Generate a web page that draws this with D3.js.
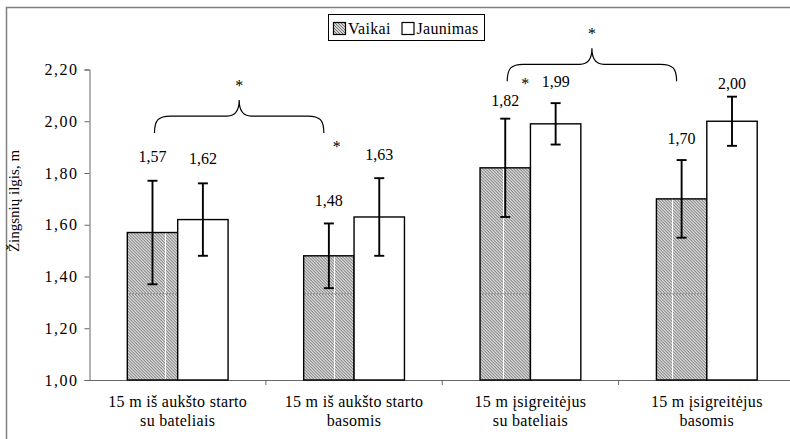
<!DOCTYPE html>
<html>
<head>
<meta charset="utf-8">
<script src="https://cdn.jsdelivr.net/npm/d3@7"></script>
</head>
<body style="margin:0;background:#fff">
<script>

// chart values
var categories = ["c1", "c2", "c3", "c4"];
var catLine1 = ["15 m iš aukšto starto", "15 m iš aukšto starto", "15 m įsigreitėjus", "15 m įsigreitėjus"];
var catLine2 = ["su bateliais", "basomis", "su bateliais", "basomis"];
var series = ["Vaikai", "Jaunimas"];
var vaikai = [1.57, 1.48, 1.82, 1.70];
var jaunimas = [1.62, 1.63, 1.99, 2.00];
var vaikaiSd = [0.20, 0.125, 0.19, 0.15];
var jaunimasSd = [0.14, 0.15, 0.08, 0.095];
var yTicks = [1.0, 1.2, 1.4, 1.6, 1.8, 2.0, 2.2];
// significance braces between Vaikai bars, level in axis units
var braces = [[0, 1, 2.02], [2, 3, 2.22]];
// single stars: category, value
var stars = [[1, 1.91], [2, 2.153]];

var width = 790, height = 439;
var FONT = "'Liberation Serif'";

var svg = d3.select("body").append("svg")
  .attr("width", width)
  .attr("height", height);

var defs = svg.append("defs");

// fine hatch
var hatch = defs.append("pattern")
  .attr("id", "hatch")
  .attr("patternUnits", "userSpaceOnUse")
  .attr("width", 3).attr("height", 3);
hatch.append("rect").attr("width", 3).attr("height", 3).attr("fill", "#fff");
hatch.append("path")
  .attr("d", "M0,0L3,3M-1,2L1,4M2,-1L4,1")
  .attr("stroke", "#6a6a6a").attr("stroke-width", 1.05);

// tile with the seams of the original picture
var tile = defs.append("pattern")
  .attr("id", "hatchTile")
  .attr("patternUnits", "userSpaceOnUse")
  .attr("x", 165).attr("y", 293.3)
  .attr("width", 169).attr("height", 600);
tile.append("rect").attr("width", 169).attr("height", 600).attr("fill", "url(#hatch)");
tile.append("line").attr("x1", 0.5).attr("x2", 0.5).attr("y1", 0).attr("y2", 600)
  .attr("stroke", "#fff").attr("stroke-width", 1);
tile.append("line").attr("x1", 0).attr("x2", 169).attr("y1", 0.5).attr("y2", 0.5)
  .attr("stroke", "#999").attr("stroke-width", 1);

// outer frame
svg.append("rect")
  .attr("x", 6.5).attr("y", 7.5)
  .attr("width", 800).attr("height", 460)
  .attr("fill", "none")
  .attr("stroke", "#808080").attr("stroke-width", 1.5);

var x = d3.scaleBand().domain(categories).range([89.5, 795]);
var xs = d3.scaleBand().domain(series).range([0, x.bandwidth()]).paddingOuter(0.75);
var y = d3.scaleLinear().domain([1, 2.2]).range([380, 69.5]);

function txt(sel, size) {
  return sel.style("font-family", FONT).style("font-size", size + "px").attr("fill", "#000");
}

// y axis
var yAxis = svg.append("g")
  .attr("transform", "translate(89.5,0)")
  .call(d3.axisLeft(y).tickValues(yTicks).tickSize(5).tickPadding(6)
    .tickFormat(function(d) { return d3.format(".2f")(d).replace(".", ","); }));
yAxis.attr("font-family", null).attr("font-size", null);
yAxis.select(".domain").attr("stroke", "#666");
yAxis.selectAll(".tick line").attr("stroke", "#666");
txt(yAxis.selectAll("text"), 16).style("letter-spacing", "1.5px");

// x axis line and boundary ticks
var xAxis = svg.append("g")
  .attr("transform", "translate(0,380)")
  .call(d3.axisBottom(x).tickSize(0).tickFormat(""));
xAxis.select(".domain").attr("stroke", "#666");

svg.selectAll(".bound")
  .data(categories.slice(1))
  .enter().append("line")
  .attr("x1", function(d) { return x(d); })
  .attr("x2", function(d) { return x(d); })
  .attr("y1", 380).attr("y2", 385)
  .attr("stroke", "#666");

// category labels
var cl = txt(svg.selectAll(".catlabel")
  .data(categories)
  .enter().append("text")
  .attr("text-anchor", "middle"), 16)
  .style("letter-spacing", "0.3px");
cl.append("tspan")
  .attr("x", function(d) { return x(d) + x.bandwidth() / 2; })
  .attr("y", 407)
  .text(function(d, i) { return catLine1[i]; });
cl.append("tspan")
  .attr("x", function(d) { return x(d) + x.bandwidth() / 2; })
  .attr("y", 426)
  .text(function(d, i) { return catLine2[i]; });

// y title
txt(svg.append("text")
  .attr("transform", "translate(19,201) rotate(-90)")
  .attr("text-anchor", "middle"), 15)
  .text("Žingsnių ilgis, m");

// bars
var rows = [];
categories.forEach(function(c, i) {
  rows.push({ c: c, s: "Vaikai", v: vaikai[i], sd: vaikaiSd[i], i: i });
  rows.push({ c: c, s: "Jaunimas", v: jaunimas[i], sd: jaunimasSd[i], i: i });
});

svg.selectAll(".bar")
  .data(rows)
  .enter().append("rect")
  .attr("x", function(d) { return x(d.c) + xs(d.s); })
  .attr("y", function(d) { return y(d.v); })
  .attr("width", xs.bandwidth())
  .attr("height", function(d) { return y(1) - y(d.v); })
  .attr("fill", function(d) { return d.s == "Vaikai" ? "url(#hatchTile)" : "#fff"; })
  .attr("stroke", "#000")
  .attr("stroke-width", 1.4);

// error bars
var cx = function(d) { return x(d.c) + xs(d.s) + xs.bandwidth() / 2; };
var eb = svg.selectAll(".err")
  .data(rows)
  .enter().append("g")
  .attr("stroke", "#000")
  .attr("stroke-width", 1.9);
eb.append("line")
  .attr("x1", cx).attr("x2", cx)
  .attr("y1", function(d) { return y(d.v + d.sd); })
  .attr("y2", function(d) { return y(d.v - d.sd); });
eb.append("line")
  .attr("x1", function(d) { return cx(d) - 5; }).attr("x2", function(d) { return cx(d) + 5; })
  .attr("y1", function(d) { return y(d.v + d.sd); })
  .attr("y2", function(d) { return y(d.v + d.sd); });
eb.append("line")
  .attr("x1", function(d) { return cx(d) - 5; }).attr("x2", function(d) { return cx(d) + 5; })
  .attr("y1", function(d) { return y(d.v - d.sd); })
  .attr("y2", function(d) { return y(d.v - d.sd); });

// value labels, gap above error bar as placed in the original
var labelGap = [24, 25, 23, 24, 18, 22, 22, 13];
txt(svg.selectAll(".val")
  .data(rows)
  .enter().append("text")
  .attr("x", cx)
  .attr("y", function(d, k) { return y(d.v + d.sd) - labelGap[k]; })
  .attr("dy", "0.35em")
  .attr("text-anchor", "middle"), 16)
  .text(function(d) { return d3.format(".2f")(d.v).replace(".", ","); });

// braces
function vc(i) { return x(categories[i]) + xs("Vaikai") + xs.bandwidth() / 2; }
braces.forEach(function(b) {
  var x0 = vc(b[0]) + 2, x1 = vc(b[1]) - 5;
  var yh = y(b[2]), ye = yh + 17, yt = yh - 16;
  var tip = (x0 + x1) / 2;
  var p = d3.path();
  p.moveTo(x0, ye);
  p.bezierCurveTo(x0, yh + 4, x0 + 4, yh, x0 + 16, yh);
  p.lineTo(tip - 12, yh);
  p.bezierCurveTo(tip - 4, yh, tip, yh - 6, tip, yt);
  p.bezierCurveTo(tip, yh - 6, tip + 4, yh, tip + 12, yh);
  p.lineTo(x1 - 16, yh);
  p.bezierCurveTo(x1 - 4, yh, x1, yh + 4, x1, ye);
  svg.append("path")
    .attr("d", p.toString())
    .attr("fill", "none")
    .attr("stroke", "#000")
    .attr("stroke-width", 1.2);
  txt(svg.append("text")
    .attr("x", tip).attr("y", yt - 9)
    .attr("text-anchor", "middle"), 16)
    .text("*");
});

stars.forEach(function(s) {
  var sx = s[0] == 1 ? vc(s[0]) + 8 : vc(s[0]) + 20;
  txt(svg.append("text")
    .attr("x", sx).attr("y", y(s[1]) + 7)
    .attr("text-anchor", "middle"), 16)
    .text("*");
});

// legend
var lg = svg.append("g");
lg.append("rect")
  .attr("x", 328.5).attr("y", 14.5)
  .attr("width", 156).attr("height", 26)
  .attr("fill", "#fff").attr("stroke", "#000").attr("stroke-width", 1);
var lx = [333, 401.5];
series.forEach(function(s, i) {
  lg.append("rect")
    .attr("x", lx[i] + 0.5).attr("y", 22.5)
    .attr("width", 12).attr("height", 12)
    .attr("fill", i == 0 ? "url(#hatch)" : "#fff")
    .attr("stroke", "#000").attr("stroke-width", 1.2);
  txt(lg.append("text")
    .attr("x", lx[i] + 15).attr("y", 34), 16)
    .style("letter-spacing", "0.3px")
    .text(s);
});

</script>
</body>
</html>
